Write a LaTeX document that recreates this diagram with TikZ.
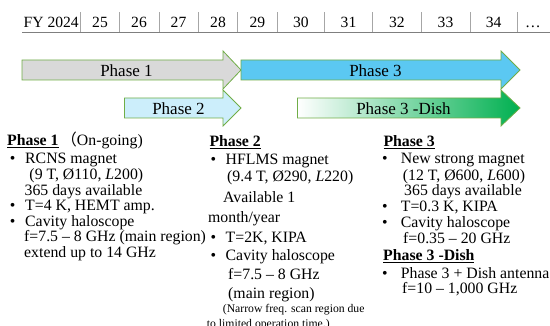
\documentclass[tikz,border=0pt]{standalone}
\usepackage{fontspec}
\setmainfont{Liberation Serif}
\newfontfamily\cjk{Noto Sans CJK JP}

\definecolor{rulegray}{HTML}{7F7F7F}
\definecolor{sepgray}{HTML}{A6A6A6}
\definecolor{edgegreen}{HTML}{70AD47}
\definecolor{oneFill}{HTML}{D9D9D9}
\definecolor{twoFill}{HTML}{CCEEFB}
\definecolor{threeFill}{HTML}{5BC8F2}
\definecolor{dishGreen}{HTML}{00B050}

\tikzset{
  yearlbl/.style={anchor=base, inner sep=0pt, font=\fontsize{15.6}{18}\selectfont},
  txt/.style={anchor=base west, inner sep=0pt, font=\fontsize{15.8}{18}\selectfont},
  smalltxt/.style={anchor=base west, inner sep=0pt, font=\fontsize{11.7}{13}\selectfont},
  bul/.style={anchor=base, inner sep=0pt, font=\fontsize{15.8}{18}\selectfont},
  arrowlbl/.style={anchor=base, inner sep=0pt, font=\fontsize{17}{20}\selectfont},
  phaseedge/.style={draw=edgegreen, line width=0.8pt, line join=miter},
  seprule/.style={draw=sepgray, line width=0.7pt},
}

\begin{document}
\begin{tikzpicture}[x=1pt,y=-1pt]
\useasboundingbox (0,0) rectangle (550,326);
\clip (0,0) rectangle (550,326);

% ---- fiscal-year header ----
\node[anchor=base west, inner sep=0pt, font=\fontsize{15.6}{18}\selectfont] (fy) at (23.5,28) {FY 2024};
\node[yearlbl] (y25) at (100,28) {25};
\node[yearlbl] (y26) at (139,28) {26};
\node[yearlbl] (y27) at (178.5,28) {27};
\node[yearlbl] (y28) at (218,28) {28};
\node[yearlbl] (y29) at (257.3,28) {29};
\node[yearlbl] (y30) at (300.8,28) {30};
\node[yearlbl] (y31) at (348.5,28) {31};
\node[yearlbl] (y32) at (396.8,28) {32};
\node[yearlbl] (y33) at (445.5,28) {33};
\node[yearlbl] (y34) at (493.7,28) {34};
\node[yearlbl] (ymore) at (533,28) {…};

\foreach \x in {80.7,119.3,158.9,198.2,237.5,277.1,324.5,372.5,421,470,517.4}
  \draw[seprule] (\x,12.3) -- (\x,32.5);
\coordinate (ruleL) at (22,32.5);
\coordinate (ruleR) at (550,32.5);
\draw[rulegray, line width=1.6pt] (ruleL) -- (ruleR);

% ---- phase arrows ----
\filldraw[fill=oneFill, phaseedge]
  (22,60) -- (223,60) -- (223,51) -- (241,70) -- (223,89) -- (223,80) -- (22,80) -- cycle;
\filldraw[fill=threeFill, phaseedge]
  (241,60) -- (501,60) -- (501,51) -- (520,70) -- (501,89) -- (501,80) -- (241,80) -- cycle;
\filldraw[fill=twoFill, phaseedge]
  (124.5,98) -- (223,98) -- (223,90) -- (241,108) -- (223,126) -- (223,118) -- (124.5,118) -- cycle;
\shade[left color=white, right color=dishGreen]
  (297.5,98) -- (501,98) -- (501,90) -- (520,108) -- (501,126) -- (501,118) -- (297.5,118) -- cycle;
\draw[phaseedge]
  (297.5,98) -- (501,98) -- (501,90) -- (520,108) -- (501,126) -- (501,118) -- (297.5,118) -- cycle;

\node[arrowlbl] (a1) at (126.5,76.5) {Phase 1};
\node[arrowlbl] (a3) at (375.5,76.5) {Phase 3};
\node[arrowlbl] (a2) at (178.5,114.5) {Phase 2};
\node[arrowlbl] (a3d) at (403.5,114.5) {Phase 3 -Dish};

% ---- Phase 1 column ----
\node[txt] (h1) at (7,146) {\textbf{\underline{Phase 1}}\,{\cjk （}On-going)};
\node[bul] (b11) at (12.7,164) {•};
\node[txt] (p11) at (25,164) {RCNS magnet};
\node[txt] (p12) at (29.3,179.6) {(9 T, Ø110, \textit{L}200)};
\node[txt] (p13) at (24.5,195.2) {365 days available};
\node[bul] (b12) at (12.7,210.8) {•};
\node[txt] (p14) at (25,210.8) {T=4 K, HEMT amp.};
\node[bul] (b13) at (12.7,226.4) {•};
\node[txt] (p15) at (25,226.4) {Cavity haloscope};
\node[txt] (p16) at (24,242) {f=7.5 – 8 GHz (main region)};
\node[txt] (p17) at (24,257.6) {extend up to 14 GHz};

% ---- Phase 2 column ----
\node[txt] (h2) at (209.3,147) {\textbf{\underline{Phase 2}}};
\node[bul] (b21) at (213.3,165) {•};
\node[txt] (q11) at (225.5,165) {HFLMS magnet};
\node[txt] (q12) at (227,182) {(9.4 T, Ø290, \textit{L}220)};
\node[txt] (q13) at (223,203) {Available 1};
\node[txt] (q14) at (208,222.5) {month/year};
\node[bul] (b22) at (213.3,242.5) {•};
\node[txt] (q15) at (225.5,242.5) {T=2K, KIPA};
\node[bul] (b23) at (213.3,261) {•};
\node[txt] (q16) at (225.5,261) {Cavity haloscope};
\node[txt] (q17) at (228,280) {f=7.5 – 8 GHz};
\node[txt] (q18) at (228,298.3) {(main region)};
\node[smalltxt] (q19) at (222.7,313) {(Narrow freq. scan region due};
\node[smalltxt] (q20) at (206.7,328) {to limited operation time.)};

% ---- Phase 3 column ----
\node[txt] (h3) at (383.3,146.7) {\textbf{\underline{Phase 3}}};
\node[bul] (b31) at (385,164) {•};
\node[txt] (r11) at (400.7,164) {New strong magnet};
\node[txt] (r12) at (402.7,180.3) {(12 T, Ø600, \textit{L}600)};
\node[txt] (r13) at (404,196) {365 days available};
\node[bul] (b32) at (385,211.7) {•};
\node[txt] (r14) at (400.7,211.7) {T=0.3 K, KIPA};
\node[bul] (b33) at (385,227.3) {•};
\node[txt] (r15) at (400.7,227.3) {Cavity haloscope};
\node[txt] (r16) at (403,243.3) {f=0.35 – 20 GHz};
\node[txt] (h4) at (383,260.7) {\textbf{\underline{Phase 3 -Dish}}};
\node[bul] (b34) at (385,278.3) {•};
\node[txt] (r17) at (400.7,278.3) {Phase 3 + Dish antenna};
\node[txt] (r18) at (402,294) {f=10 – 1,000 GHz};
\end{tikzpicture}
\end{document}
